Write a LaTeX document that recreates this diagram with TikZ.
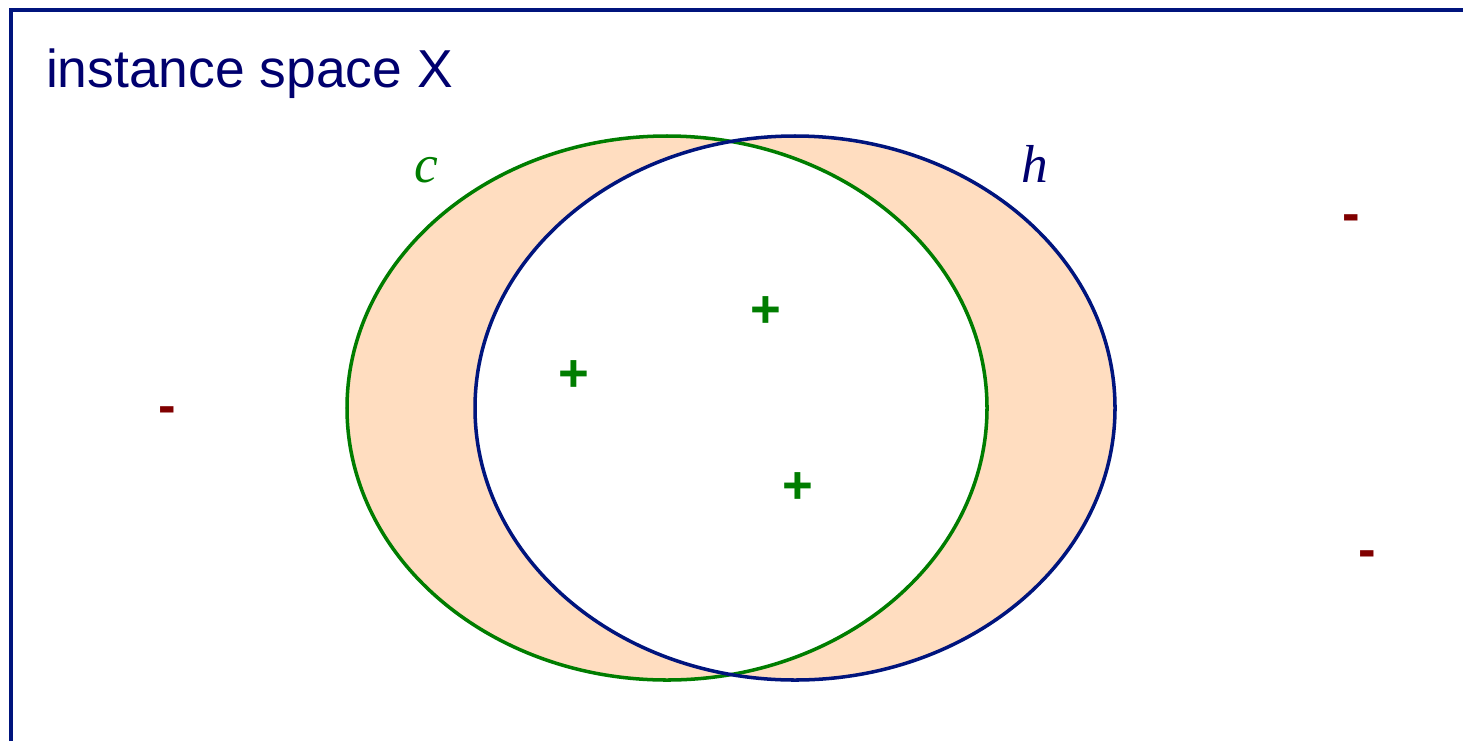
\documentclass[tikz,border=0pt]{standalone}
\usepackage{fontspec}
\setmainfont{Liberation Sans}
\newfontfamily\labelserif{Liberation Serif}
\usepackage{xcolor}
\usetikzlibrary{positioning}
\definecolor{spacenavy}{RGB}{0, 0, 110}
\definecolor{framenavy}{RGB}{0, 20, 125}
\definecolor{conceptgreen}{RGB}{0, 125, 0}
\definecolor{errpeach}{RGB}{255, 221, 192}
\definecolor{negred}{RGB}{128, 0, 0}

\begin{document}
\begin{tikzpicture}[x=0.02cm, y=-0.02cm,
    every node/.style={inner sep=0pt, outer sep=0pt, font=\fontsize{30.4}{36}\selectfont},
    possign/.style={text=conceptgreen, anchor=base, font=\fontsize{30}{36}\selectfont\bfseries},
    negsign/.style={text=negred, anchor=base, font=\fontsize{30}{36}\selectfont\bfseries}]
    \useasboundingbox (0,0) rectangle (1463,741);

    % error region: symmetric difference of c and h
    \fill[errpeach, even odd rule] (667,408) ellipse [x radius=320, y radius=272]
                                   (795,408) ellipse [x radius=320, y radius=272];
    \draw[conceptgreen, line width=2pt] (667,408) ellipse [x radius=320, y radius=272];
    \draw[framenavy, line width=2pt] (795,408) ellipse [x radius=320, y radius=272];

    \draw[framenavy, line width=2.3pt] (11,741) -- (11,10) -- (1463,10);

    \node[text=spacenavy, anchor=base west] (title) at (46,87) {instance space X};
    \node[text=conceptgreen, anchor=base] (clabel) at (426,182) {\labelserif\itshape c};
    \node[text=spacenavy, anchor=base] (hlabel) at (1035,182) {\labelserif\itshape h};

    \node[possign] (pos1) at (766,327) {+};
    \node[possign] (pos2) at (574,391) {+};
    \node[possign] (pos3) at (798,503) {+};

    \node[negsign] (neg1) at (1351.5,231) {-};
    \node[negsign] (neg2) at (167.5,423) {-};
    \node[negsign] (neg3) at (1367.5,567) {-};
\end{tikzpicture}
\end{document}
